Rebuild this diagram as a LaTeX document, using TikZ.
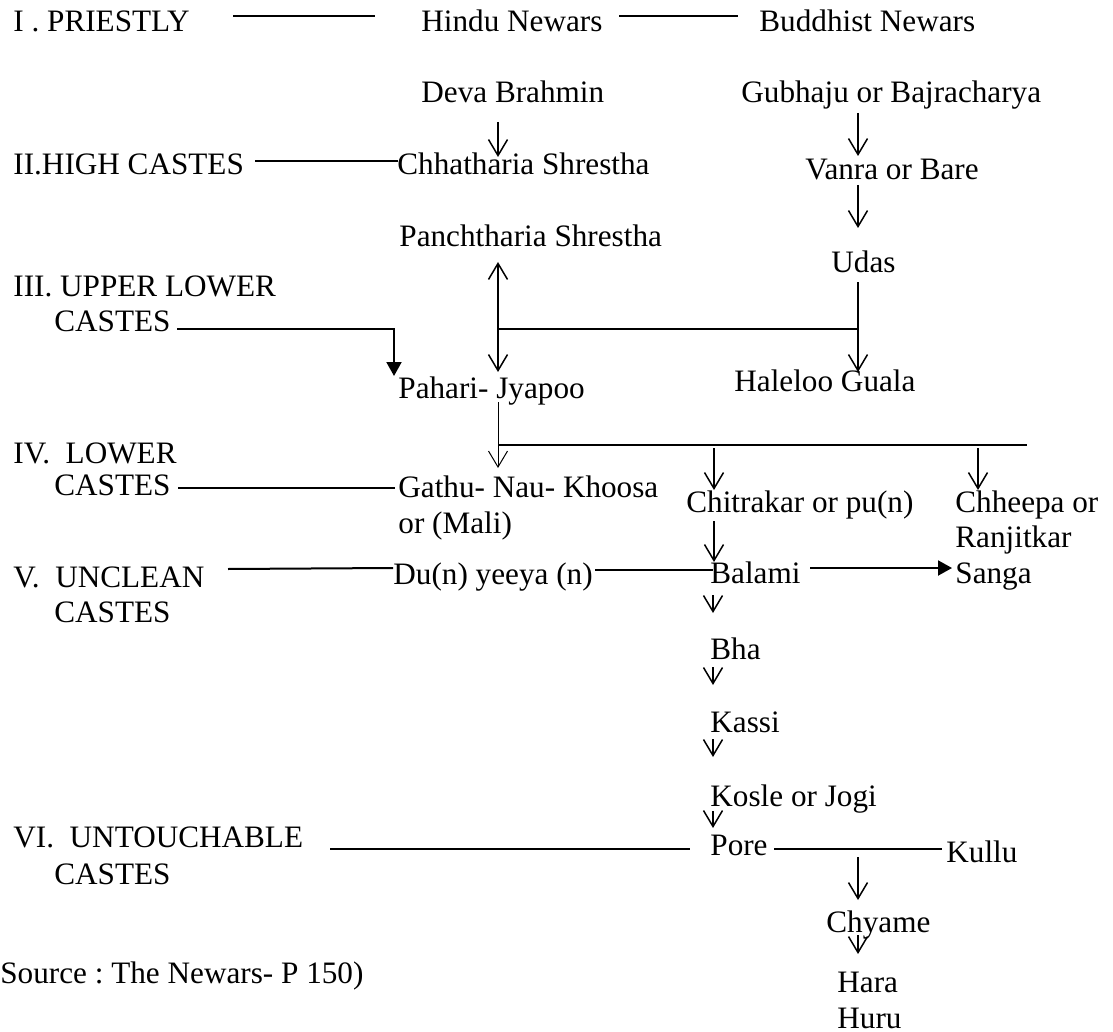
\documentclass[tikz,border=0pt]{standalone}
\usepackage{fontspec}
\setmainfont{Liberation Serif}
\usetikzlibrary{arrows.meta,calc}
\begin{document}
\begin{tikzpicture}[x=0.5pt, y=-0.5pt,
	>={Straight Barb[length=8pt,width=9.5pt]},
	txt/.style={anchor=base west, inner sep=0pt, font=\fontsize{15.6}{18}\selectfont\frenchspacing},
	conn/.style={line width=1pt},
	varr/.style={line width=0.75pt, ->},
	tarr/.style={line width=1pt, -{Triangle[length=7pt,width=7.5pt]}}]
	\useasboundingbox (0,0) rectangle (1113,1032);
	\node[txt] (priestly) at (13,32) {I . PRIESTLY};
	\node[txt] (hindu) at (421,32) {Hindu Newars};
	\node[txt] (buddhist) at (759,32) {Buddhist Newars};
	\node[txt] (deva) at (421,103) {Deva Brahmin};
	\node[txt] (gubhaju) at (741,103) {Gubhaju or Bajracharya};
	\node[txt] (high) at (13,175) {II.HIGH CASTES};
	\node[txt] (chhatharia) at (397,175) {Chhatharia Shrestha};
	\node[txt] (vanra) at (805,180) {Vanra or Bare};
	\node[txt] (panch) at (399,247) {Panchtharia Shrestha};
	\node[txt] (udas) at (831,272) {Udas};
	\node[txt] (upper) at (13,296) {III. UPPER LOWER};
	\node[txt] (upperb) at (54,331) {CASTES};
	\node[txt] (pahari) at (398,398) {Pahari- Jyapoo};
	\node[txt] (haleloo) at (734,391) {Haleloo Guala};
	\node[txt] (lower) at (13,463) {IV.\ \ LOWER};
	\node[txt] (lowerb) at (54,495) {CASTES};
	\node[txt] (gathu) at (398,497) {Gathu- Nau- Khoosa};
	\node[txt] (gathub) at (398,533) {or (Mali)};
	\node[txt] (chitrakar) at (686,512) {Chitrakar or pu(n)};
	\node[txt] (chheepa) at (955,512) {Chheepa or};
	\node[txt] (ranjitkar) at (955,547) {Ranjitkar};
	\node[txt] (sanga) at (955,583) {Sanga};
	\node[txt] (unclean) at (13,587) {V.\ \ UNCLEAN};
	\node[txt] (uncleanb) at (54,622) {CASTES};
	\node[txt] (duyeeya) at (393,584) {Du(n) yeeya (n)};
	\node[txt] (balami) at (710,583) {Balami};
	\node[txt] (bha) at (710,659) {Bha};
	\node[txt] (kassi) at (710,732) {Kassi};
	\node[txt] (kosle) at (710,806) {Kosle or Jogi};
	\node[txt] (untouch) at (13,847) {VI.\ \ UNTOUCHABLE};
	\node[txt] (untouchb) at (54,884) {CASTES};
	\node[txt] (pore) at (710,855) {Pore};
	\node[txt] (kullu) at (946,862) {Kullu};
	\node[txt] (chyame) at (826,932) {Chyame};
	\node[txt] (hara) at (837,992) {Hara};
	\node[txt] (huru) at (837,1028) {Huru};
	\node[txt] (source) at (0,983) {Source : The Newars- P 150)};
	\draw[conn] ($(priestly.base west)+(220,-16)$) -- ($(hindu.base west)+(-46,-16)$);
	\draw[conn] ($(hindu.base west)+(198,-16)$) -- ($(buddhist.base west)+(-21,-16)$);
	\draw[varr] ($(deva.base west)+(77,19)$) -- ($(chhatharia.base west)+(101,-18)$);
	\draw[varr] ($(gubhaju.base west)+(117,10)$) -- ($(vanra.base west)+(53,-24)$);
	\draw[varr] ($(vanra.base west)+(53,5)$) -- ($(udas.base west)+(27,-44)$);
	\draw[conn] ($(high.base west)+(242,-14)$) -- ($(chhatharia.base west)+(1,-14)$);
	\draw[tarr] ($(upperb.base west)+(123,-2)$) -| ($(pahari.base west)+(-4,-22)$);
	\draw[varr, <->] ($(panch.base west)+(99,15)$) -- ($(pahari.base west)+(100,-26)$);
	\coordinate (jup) at ($(pahari.base west)+(100,-69)$);
	\draw[conn] (jup) -- ($(haleloo.base west)+(124,-62)$);
	\draw[varr] ($(udas.base west)+(27,10)$) -- ($(haleloo.base west)+(124,-19)$);
	\draw[varr, line width=0.5pt] ($(pahari.base west)+(100,4)$) -- ($(gathu.base west)+(100,-29)$);
	\coordinate (jlow) at ($(pahari.base west)+(100,47)$);
	\draw[conn] (jlow) -- ($(chheepa.base west)+(72,-67)$);
	\draw[varr] ($(chitrakar.base west)+(28,-64)$) -- ($(chitrakar.base west)+(28,-22)$);
	\draw[varr] ($(chheepa.base west)+(23,-64)$) -- ($(chheepa.base west)+(23,-22)$);
	\draw[conn] ($(lowerb.base west)+(124,-7)$) -- ($(gathu.base west)+(-3,-9)$);
	\draw[varr] ($(chitrakar.base west)+(28,9)$) -- ($(balami.base west)+(4,-21)$);
	\draw[conn] ($(unclean.base west)+(215,-18)$) -- ($(duyeeya.base west)+(0,-16)$);
	\draw[conn] ($(duyeeya.base west)+(202,-14)$) -- ($(balami.base west)+(3,-13)$);
	\draw[tarr] ($(balami.base west)+(100,-15)$) -- ($(sanga.base west)+(-3,-15)$);
	\draw[varr] ($(balami.base west)+(3,12)$) -- ($(bha.base west)+(3,-46)$);
	\draw[varr] ($(bha.base west)+(3,8)$) -- ($(kassi.base west)+(3,-47)$);
	\draw[varr] ($(kassi.base west)+(3,7)$) -- ($(kosle.base west)+(3,-49)$);
	\draw[varr] ($(kosle.base west)+(3,5)$) -- ($(pore.base west)+(3,-27)$);
	\draw[conn] ($(untouch.base west)+(317,2)$) -- ($(pore.base west)+(-20,-6)$);
	\draw[conn] ($(pore.base west)+(64,-6)$) -- ($(kullu.base west)+(-4,-13)$);
	\draw[varr] ($(pore.base west)+(148,2)$) -- ($(chyame.base west)+(32,-32)$);
	\draw[varr] ($(chyame.base west)+(32,3)$) -- ($(hara.base west)+(21,-38)$);
\end{tikzpicture}
\end{document}
